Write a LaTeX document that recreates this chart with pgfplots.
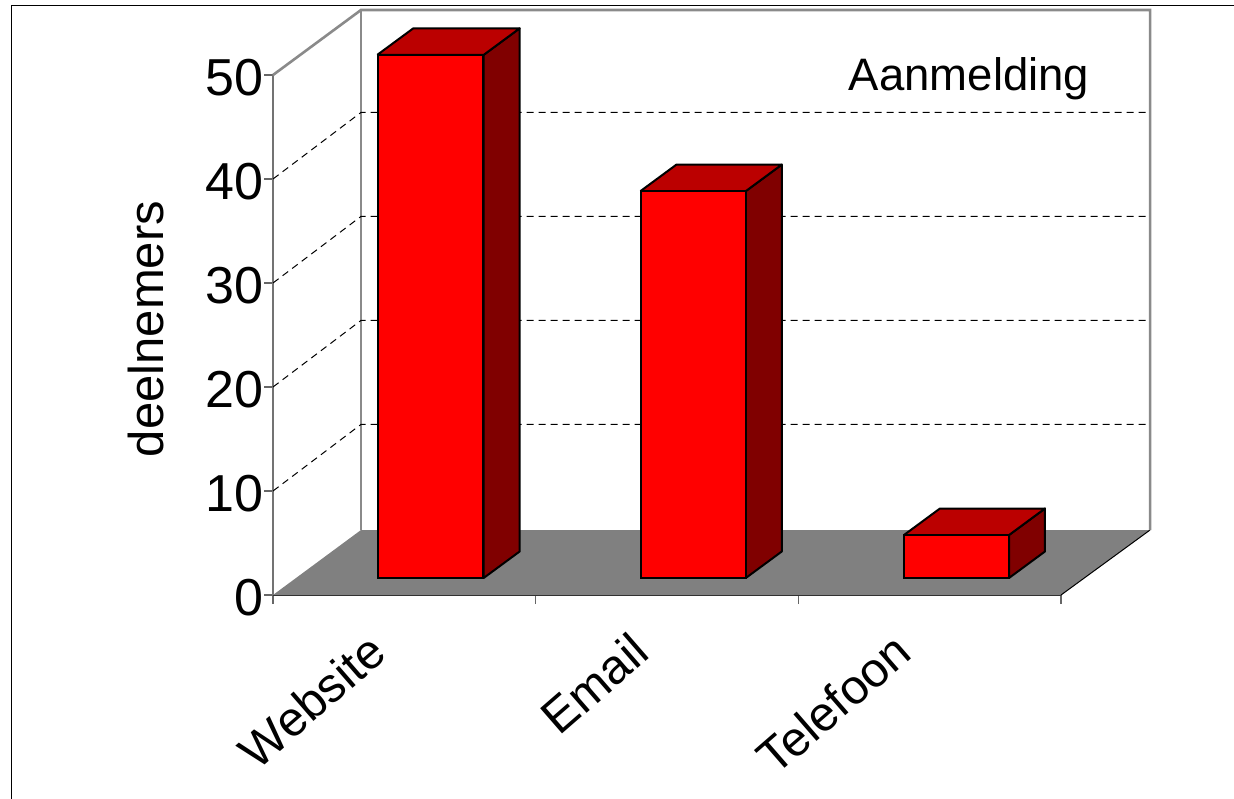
\documentclass[border=0pt]{standalone}
\usepackage{fontspec}
\setmainfont{Liberation Sans}
\usepackage{pgfplots}
\pgfplotsset{compat=1.18}
\definecolor{floorgray}{HTML}{808080}
\definecolor{wallgray}{HTML}{8A8A8A}
\definecolor{bartop}{HTML}{BB0000}
\definecolor{barside}{HTML}{800000}
\newcommand{\bigfont}{\fontsize{45.5}{50}\selectfont}
\newcommand{\labelfont}{\fontsize{49}{54}\selectfont}
\newcommand{\xfont}{\fontsize{48.5}{54}\selectfont}
\newcommand{\tickfont}{\fontsize{52}{56}\selectfont}
\begin{document}
\begin{tikzpicture}[x=1pt,y=1pt]
\useasboundingbox (0,0) rectangle (1234,798);
\draw[black,line width=1.8pt] (11.5,-1) -- (11.5,792.5) -- (1235,792.5);
\begin{axis}[
  at={(273pt,203pt)}, anchor=south west,
  scale only axis, width=788pt, height=520pt,
  xmin=0, xmax=3, ymin=0, ymax=50,
  clip=false,
  axis x line=bottom, axis y line=left,
  x axis line style={-, black!85, line width=1.8pt},
  y axis line style={-, black!55, line width=1.4pt},
  xtick={0,1,2,3}, xticklabels={},
  extra x ticks={0.5,1.5,2.5},
  extra x tick labels={Website,Email,Telefoon},
  extra x tick style={major tick length=0pt, tick label style={font=\xfont, rotate=41, anchor=north east, xshift=-52pt, yshift=-1pt}},
  ytick={0,10,20,30,40,50},
  tick align=outside, major tick length=9pt,
  tick style={black!60, line width=1.3pt},
  tick label style={font=\tickfont, inner sep=0pt, text=black},
  y tick label style={xshift=0pt, yshift=-3pt},
  /pgf/number format/assume math mode=true,
]
% floor
\addplot[fill=floorgray, draw=none, forget plot] coordinates {(0,0) (0.335,6.25) (3.339,6.25) (3,0)} \closedcycle;
\addplot[black, line width=1pt, forget plot] coordinates {(3,0) (3.339,6.25)};
% walls
\addplot[wallgray, line width=2.6pt, forget plot] coordinates {(0,50) (0.335,56.25) (3.339,56.25) (3.339,6.25)};
\addplot[wallgray, line width=2.6pt, forget plot] coordinates {(0.335,56.25) (0.335,6.25)};
% grid
\addplot[black, line width=1pt, dash pattern=on 7pt off 5pt, forget plot] coordinates {(0,10) (0.335,16.4) (3.339,16.4)};
\addplot[black, line width=1pt, dash pattern=on 7pt off 5pt, forget plot] coordinates {(0,20) (0.335,26.4) (3.339,26.4)};
\addplot[black, line width=1pt, dash pattern=on 7pt off 5pt, forget plot] coordinates {(0,30) (0.335,36.4) (3.339,36.4)};
\addplot[black, line width=1pt, dash pattern=on 7pt off 5pt, forget plot] coordinates {(0,40) (0.335,46.4) (3.339,46.4)};
% Website
\addplot[fill=barside, draw=black, line width=2pt, line join=round, forget plot] coordinates {(0.802,1.635) (0.802,51.935) (0.939,54.485) (0.939,4.185) (0.802,1.635)};
\addplot[fill=bartop, draw=black, line width=2pt, line join=round, forget plot] coordinates {(0.397,51.935) (0.534,54.485) (0.939,54.485) (0.802,51.935) (0.397,51.935)};
% Email
\addplot[fill=barside, draw=black, line width=2pt, line join=round, forget plot] coordinates {(1.800,1.635) (1.800,38.835) (1.937,41.385) (1.937,4.185) (1.800,1.635)};
\addplot[fill=bartop, draw=black, line width=2pt, line join=round, forget plot] coordinates {(1.399,38.835) (1.536,41.385) (1.937,41.385) (1.800,38.835) (1.399,38.835)};
% Telefoon
\addplot[fill=barside, draw=black, line width=2pt, line join=round, forget plot] coordinates {(2.802,1.635) (2.802,5.765) (2.939,8.315) (2.939,4.185) (2.802,1.635)};
\addplot[fill=bartop, draw=black, line width=2pt, line join=round, forget plot] coordinates {(2.402,5.765) (2.539,8.315) (2.939,8.315) (2.802,5.765) (2.402,5.765)};
% front faces: the values themselves
\addplot[ybar, bar width=105pt, bar shift=26.5pt, yshift=17pt, fill=red, draw=black, line width=2pt, forget plot] coordinates {(0.5,50.3) (1.5,37.2) (2.5,4.13)};
\end{axis}
\node[font=\bigfont, anchor=base, inner sep=0pt] at (969,798-91) {Aanmelding};
\node[font=\labelfont, rotate=90, anchor=base, inner sep=0pt] at (163,798-329) {deelnemers};
\end{tikzpicture}
\end{document}
